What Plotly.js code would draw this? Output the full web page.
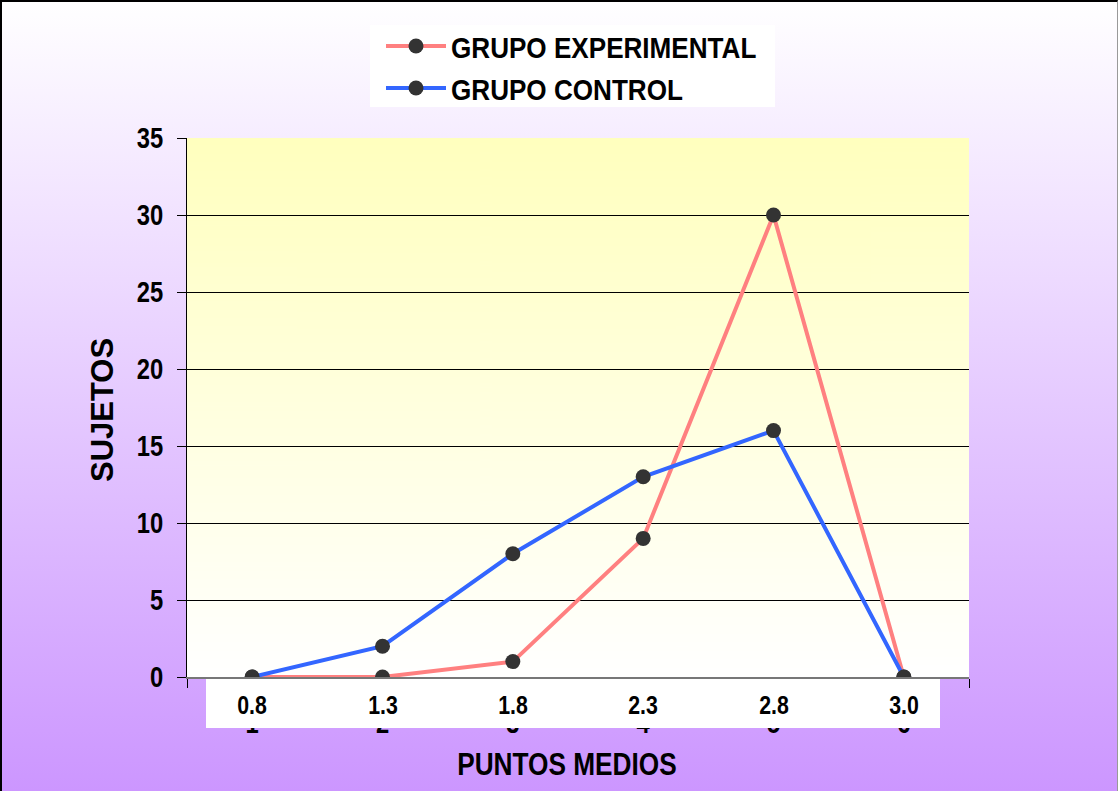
<!DOCTYPE html>
<html>
<head>
<meta charset="utf-8">
<script src="https://cdn.plot.ly/plotly-3.0.1.min.js"></script>
<style>
  html, body { margin: 0; padding: 0; }
  #wrap { position: relative; width: 1118px; height: 791px;
          background: linear-gradient(to bottom, #ffffff 0%, #cc96ff 100%); }
  #chart { position: absolute; left: 0; top: 0; width: 1118px; height: 791px; }
  #frame { position: absolute; left: 0; top: 0; width: 1118px; height: 791px;
           box-sizing: border-box; border-top: 2px solid #000; border-left: 2px solid #000;
           border-right: 1px solid #999; pointer-events: none; }
</style>
</head>
<body>
<div id="wrap"><div id="chart"></div><div id="frame"></div></div>
<script>
// ---- data ----
const categories = ["1", "2", "3", "4", "5", "6"];
const midpointLabels = ["0.8", "1.3", "1.8", "2.3", "2.8", "3.0"];
const experimental = [0, 0, 1, 9, 30, 0];
const control = [0, 2, 8, 13, 16, 0];
const seriesNames = ["GRUPO EXPERIMENTAL", "GRUPO CONTROL"];
const yTitle = "SUJETOS";
const xTitle = "PUNTOS MEDIOS";

// ---- styling ----
const FONT = "'Liberation Sans', Arial, sans-serif";
const NARROW_SCALE = 0.82;   // mimic a narrow (condensed) bold face
const LEGEND_SCALE = 0.87;

// plot-area gradient (light yellow -> white)
function gradientURL() {
  const c = document.createElement('canvas');
  c.width = 4; c.height = 256;
  const g = c.getContext('2d');
  const grd = g.createLinearGradient(0, 0, 0, 256);
  grd.addColorStop(0, '#ffffbe');
  grd.addColorStop(1, '#ffffff');
  g.fillStyle = grd; g.fillRect(0, 0, 4, 256);
  return c.toDataURL();
}

const marker = { color: '#333333', size: 15, symbol: 'circle' };
const traces = [
  { type: 'scatter', mode: 'lines+markers', name: seriesNames[0], x: categories, y: experimental,
    line: { color: '#ff8080', width: 4 }, marker: marker, cliponaxis: false },
  { type: 'scatter', mode: 'lines+markers', name: seriesNames[1], x: categories, y: control,
    line: { color: '#3366ff', width: 4 }, marker: marker, cliponaxis: false }
];

const L = 187, R = 149, T = 138, B = 114;
const W = 1118 - L - R, H = 791 - T - B;
const px = v => (v - L) / W;          // pixel x -> paper x
const py = v => (791 - B - v) / H;    // pixel y -> paper y

const annotations = midpointLabels.map((t, i) => ({
  text: t, x: i, xref: 'x', y: py(705), yref: 'paper', showarrow: false,
  xanchor: 'center', yanchor: 'middle',
  font: { family: FONT, size: 26, color: '#000', weight: 'bold' }
}));
annotations.push({
  text: xTitle, x: px(567), xref: 'paper', y: py(764), yref: 'paper', showarrow: false,
  xanchor: 'center', yanchor: 'middle',
  font: { family: FONT, size: 32, color: '#000', weight: 'bold' }
});
annotations.push({
  text: yTitle, x: px(102), xref: 'paper', y: py(410), yref: 'paper', showarrow: false,
  xanchor: 'center', yanchor: 'middle', textangle: -90,
  font: { family: FONT, size: 31, color: '#000', weight: 'bold' }
});

const layout = {
  width: 1118, height: 791,
  margin: { l: L, r: R, t: T, b: B, pad: 0 },
  paper_bgcolor: 'rgba(0,0,0,0)',
  plot_bgcolor: 'rgba(0,0,0,0)',
  showlegend: true,
  legend: {
    x: px(381), y: py(20), xanchor: 'left', yanchor: 'top',
    bgcolor: 'rgba(0,0,0,0)', borderwidth: 0, itemwidth: 60,
    font: { family: FONT, size: 30, color: '#000', weight: 'bold' },
    tracegroupgap: 0
  },
  xaxis: {
    type: 'category', categoryorder: 'array', categoryarray: categories,
    range: [-0.5, 5.5], tickson: 'boundaries',
    showline: true, linecolor: '#777777', linewidth: 2,
    ticks: 'outside', ticklen: 9, tickcolor: '#000', tickwidth: 1,
    showgrid: false, zeroline: false,
    tickfont: { family: FONT, size: 29, color: '#000', weight: 'bold' },
    ticklabelstandoff: 19
  },
  yaxis: {
    range: [0, 35], dtick: 5, tick0: 0,
    showline: true, linecolor: '#000', linewidth: 1,
    ticks: 'outside', ticklen: 9, tickcolor: '#000', tickwidth: 1,
    showgrid: true, gridcolor: '#000', gridwidth: 1, zeroline: false,
    tickfont: { family: FONT, size: 29, color: '#000', weight: 'bold' },
    ticklabelstandoff: 8
  },
  images: [{
    source: gradientURL(), xref: 'paper', yref: 'paper', x: 0, y: 1, sizex: 1, sizey: 1,
    sizing: 'stretch', xanchor: 'left', yanchor: 'top', layer: 'below'
  }],
  shapes: [
    { type: 'rect', xref: 'paper', yref: 'paper', x0: px(370), x1: px(775), y0: py(107), y1: py(25),
      fillcolor: '#ffffff', line: { width: 0 }, layer: 'below' },
    { type: 'rect', xref: 'paper', yref: 'paper', x0: px(206), x1: px(940), y0: py(728), y1: py(679),
      fillcolor: '#ffffff', line: { width: 0 }, layer: 'above' }
  ],
  annotations: annotations
};

Plotly.newPlot('chart', traces, layout, { displayModeBar: false, staticPlot: true }).then(() => {
  // condense horizontal texts around their anchor x (narrow bold look)
  document.querySelectorAll('#chart svg text').forEach(el => {
    if (el.textContent === yTitle) return;
    const s = el.classList.contains('legendtext') ? LEGEND_SCALE : NARROW_SCALE;
    const x = parseFloat(el.getAttribute('x') || '0');
    const t = el.getAttribute('transform') || '';
    el.setAttribute('transform',
      (t + ' translate(' + x + ',0) scale(' + s + ',1) translate(' + (-x) + ',0)').trim());
  });
});
</script>
</body>
</html>
